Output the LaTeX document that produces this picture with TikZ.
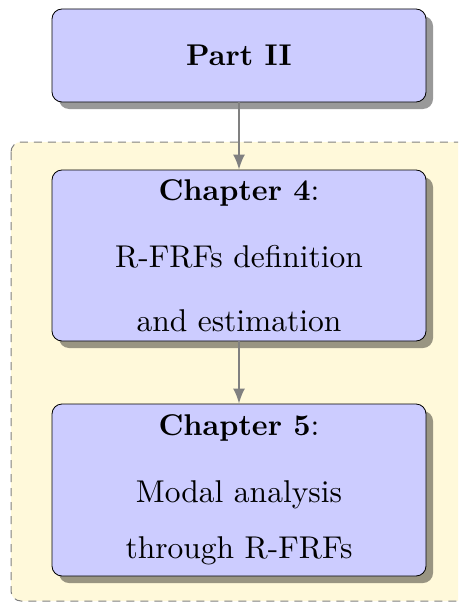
\documentclass[tikz,border=0pt]{standalone}
\usepackage{fontspec}
\setmainfont{lmroman10-regular.otf}[BoldFont=lmroman10-bold.otf, ItalicFont=lmroman10-italic.otf]
\usetikzlibrary{shadows,arrows.meta}
\definecolor{bgyellow}{RGB}{255,249,218}
\definecolor{boxblue}{RGB}{204,204,255}
\newcommand{\headtext}[1]{{\fontsize{30}{60}\selectfont\textbf{#1}}}
\begin{document}
\begin{tikzpicture}[x=1pt,y=-1pt,
  chapbox/.style={draw=black, line width=0.8pt, fill=boxblue, rounded corners=10pt,
    minimum width=374pt, align=center, inner sep=0pt,
    drop shadow={shadow xshift=7pt, shadow yshift=-7pt, fill=black, opacity=0.4},
    font=\fontsize{31.5}{60}\selectfont},
  bgbox/.style={draw=gray, dashed, dash pattern=on 8pt off 6pt, line width=1pt,
    fill=bgyellow, rounded corners=10pt},
  flow/.style={draw=gray, line width=2pt, -{Latex[length=15pt,width=12pt]}}]
\useasboundingbox (0,0) rectangle (458,602);
\begin{scope}
\clip (0,0) rectangle (458,602);
\draw[bgbox] (11,142) rectangle (475,601);
\end{scope}
\node[chapbox, minimum height=93pt] (part) at (239,55.5) {\headtext{Part II}};
\node[chapbox, minimum height=171pt] (ch4) at (239,255.5) {\headtext{Chapter 4}:\\[7pt]R-FRFs definition\\[4pt]and estimation};
\node[chapbox, minimum height=172pt] (ch5) at (239,490) {\headtext{Chapter 5}:\\[7pt]Modal analysis\\[-4pt]through R-FRFs};
\draw[flow] (part) -- (ch4);
\draw[flow] (ch4) -- (ch5);
\end{tikzpicture}
\end{document}
